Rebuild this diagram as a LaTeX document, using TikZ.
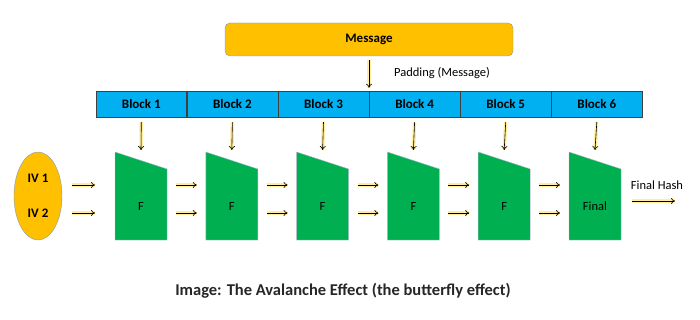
\documentclass[tikz,border=0pt]{standalone}
\usepackage{fontspec}
\setmainfont{Carlito}
\usetikzlibrary{arrows.meta,positioning,shapes.geometric}
\definecolor{msgorange}{HTML}{FFC000}
\definecolor{blockblue}{HTML}{00B0F0}
\definecolor{fgreen}{HTML}{00B050}
\definecolor{glow}{HTML}{FFE36E}
\definecolor{edgegray}{HTML}{8497B0}

\begin{document}
\begin{tikzpicture}[x=1pt,y=-1pt,
    every node/.style={font=\fontsize{12.5}{14}\selectfont},
    block/.style={draw=black!75, fill=blockblue, minimum width=90.7pt, minimum height=26pt,
      inner sep=0pt, font=\bfseries\fontsize{13}{15}\selectfont},
    comp/.style={fill=fgreen, draw=edgegray!70, thin},
    flow/.style={-{To[length=4pt,width=6pt]}, semithick,
      preaction={draw=glow, line width=3.6pt, opacity=.65}}
  ]
  \useasboundingbox (0,0) rectangle (700,320);

  % message and its blocks
  \node[draw=edgegray, fill=msgorange, rounded corners=5pt, minimum width=288pt,
    minimum height=33pt, font=\bfseries\fontsize{13}{15}\selectfont] (msg) at (369,39.5) {Message};
  \node[block] (b1) at (141.3,104) {Block 1};
  \foreach \i [remember=\i as \j (initially 1)] in {2,...,6}
    \node[block, right=0pt of b\j] (b\i) {Block \i};
  \coordinate (pad) at (msg.south -| b4.north west);
  \draw[flow] ([yshift=-4pt]pad) -- ([yshift=3pt]b4.north west);
  \node (padlbl) at (442,73) {Padding (Message)};

  % compression functions
  \foreach \i/\lab in {1/F,2/F,3/F,4/F,5/F,6/Final}{
    \pgfmathsetmacro\xl{115+90.8*(\i-1)}
    \filldraw[comp] (\xl,152) -- (\xl+52,169) -- (\xl+52,240) -- (\xl,240) -- cycle;
    \node (f\i) at (\xl+26,206) {\lab};
    \coordinate (f\i-top) at (\xl+26,150);
    \coordinate (f\i-w1) at (\xl,185);
    \coordinate (f\i-w2) at (\xl,213);
    \coordinate (f\i-e1) at (\xl+52,185);
    \coordinate (f\i-e2) at (\xl+52,213);
    \coordinate (f\i-e) at (\xl+52,201);
    \draw[flow] ([yshift=-5pt]b\i.south) -- (f\i-top);
  }

  % initial values
  \node[ellipse, draw=edgegray, fill=msgorange, minimum width=48pt, minimum height=88pt] (iv) at (38,196) {};
  \node[font=\bfseries\fontsize{13}{15}\selectfont] (iv1) at (38,178) {IV 1};
  \node[font=\bfseries\fontsize{13}{15}\selectfont] (iv2) at (38,213) {IV 2};
  \coordinate (iv-e1) at (iv.east |- f1-w1);
  \coordinate (iv-e2) at (iv.east |- f1-w2);
  \draw[flow] ([xshift=10pt]iv-e1) -- ([xshift=-20pt]f1-w1);
  \draw[flow] ([xshift=10pt]iv-e2) -- ([xshift=-20pt]f1-w2);

  \foreach \i [remember=\i as \j (initially 1)] in {2,...,6}{
    \draw[flow] ([xshift=9pt]f\j-e1) -- ([xshift=-9pt]f\i-w1);
    \draw[flow] ([xshift=9pt]f\j-e2) -- ([xshift=-9pt]f\i-w2);
  }

  % output
  \node (hash) at (657,185) {Final Hash};
  \coordinate (hashend) at (675,201);
  \draw[flow] ([xshift=11pt]f6-e) -- (hashend);

  \node[font=\bfseries\fontsize{16.5}{19}\selectfont, text=black!85] (caption) at (343,291)
    {Image: The Avalanche Effect (the butterfly effect)};
\end{tikzpicture}
\end{document}
